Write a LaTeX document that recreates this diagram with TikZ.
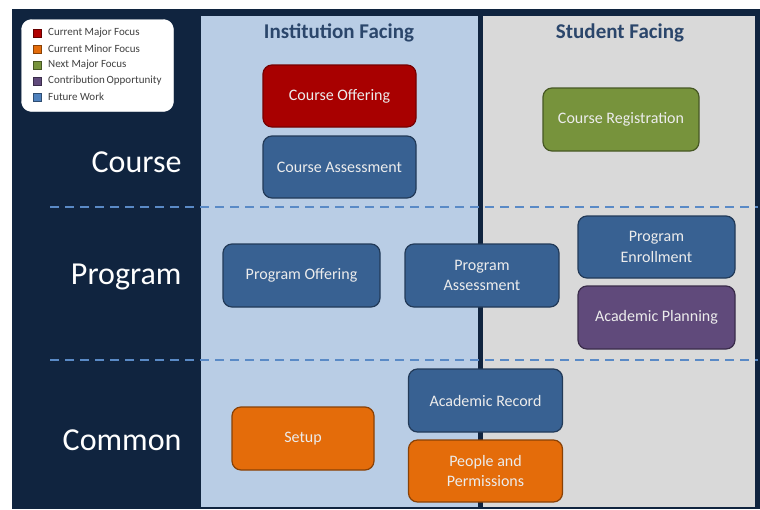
\documentclass[tikz,border=0pt]{standalone}
\usepackage{fontspec}
\setmainfont{Carlito}
\definecolor{navy}{HTML}{10243F}
\definecolor{instbg}{HTML}{B9CDE5}
\definecolor{studbg}{HTML}{D9D9D9}
\definecolor{headc}{HTML}{2B466B}
\definecolor{dashc}{HTML}{5A8AC6}
\definecolor{redf}{HTML}{A80000}
\definecolor{bluef}{HTML}{386192}
\definecolor{legblue}{HTML}{4F81BD}
\definecolor{greenf}{HTML}{77933C}
\definecolor{purplef}{HTML}{604A7B}
\definecolor{orangef}{HTML}{E46C0A}
\definecolor{boxtext}{HTML}{ECECEC}
\begin{document}
\begin{tikzpicture}[x=1pt,y=-1pt,
  box/.style={rectangle,rounded corners=9pt,line width=1.2pt,align=center,
    text=boxtext,font=\fontsize{16}{20.5}\selectfont,inner sep=2pt},
  redbox/.style={box,fill=redf,draw=redf!70!black},
  bluebox/.style={box,fill=bluef,draw=bluef!60!black},
  greenbox/.style={box,fill=greenf,draw=greenf!60!black},
  purplebox/.style={box,fill=purplef,draw=purplef!60!black},
  orangebox/.style={box,fill=orangef,draw=orangef!60!black},
  rowlabel/.style={anchor=east,text=white,font=\fontsize{32}{35}\selectfont},
  header/.style={text=headc,font=\fontsize{21}{23}\selectfont\bfseries},
  sep/.style={draw=dashc,line width=2pt,dash pattern=on 9pt off 6pt},
  legsq/.style={rectangle,minimum size=8pt,inner sep=0pt,line width=0.5pt},
  legtxt/.style={anchor=west,text=black!75,font=\fontsize{11}{12}\selectfont,inner sep=0pt}
]
\useasboundingbox (0,0) rectangle (760,509);
\fill[white] (0,0) rectangle (760,509);
% background panels
\fill[navy] (12,9) rectangle (760,509);
\fill[instbg] (201,16) rectangle (478,507);
\fill[studbg] (483,16) rectangle (755,507);
% dashed separators
\draw[sep] (50,207) -- (758,207);
\draw[sep] (50,360) -- (758,360);
% headers
\node[header] (hinst) at (339,33) {Institution Facing};
\node[header] (hstud) at (620,33) {Student Facing};
% row labels
\node[rowlabel] (lcourse) at (185,162) {Course};
\node[rowlabel] (lprog) at (185,277) {Program};
\node[rowlabel] (lcommon) at (185,440) {Common};
% legend
\node[draw=white,fill=white,rounded corners=10pt,minimum width=152pt,minimum height=92pt] (legend) at (97.5,65.5) {};
\node[legsq,fill=redf!90!red,draw=redf!60!black] (sq1) at (37,33) {};
\node[legtxt] (lt1) at (48,33) {Current Major Focus};
\node[legsq,fill=orangef,draw=orangef!60!black] (sq2) at (37,49) {};
\node[legtxt] (lt2) at (48,49) {Current Minor Focus};
\node[legsq,fill=greenf,draw=greenf!60!black] (sq3) at (37,65) {};
\node[legtxt] (lt3) at (48,65) {Next Major Focus};
\node[legsq,fill=purplef,draw=purplef!60!black] (sq4) at (37,81) {};
\node[legtxt] (lt4) at (48,81) {Contribution\,Opportunity};
\node[legsq,fill=legblue,draw=legblue!60!black] (sq5) at (37,97) {};
\node[legtxt] (lt5) at (48,97) {Future Work};
% boxes
\node[redbox,minimum width=153pt,minimum height=62pt] (coffer) at (339.5,96) {Course Offering};
\node[bluebox,minimum width=153pt,minimum height=62pt] (cassess) at (339.5,167) {Course Assessment};
\node[greenbox,minimum width=156pt,minimum height=63pt] (creg) at (621,119.5) {Course Registration};
\node[bluebox,minimum width=157pt,minimum height=63pt] (poffer) at (301.5,275.5) {Program Offering};
\node[bluebox,minimum width=154pt,minimum height=63pt] (passess) at (482,275.5) {Program\\Assessment};
\node[bluebox,minimum width=157pt,minimum height=62pt] (penroll) at (656.5,247) {Program\\Enrollment};
\node[purplebox,minimum width=157pt,minimum height=63pt] (aplan) at (656.5,317.5) {Academic Planning};
\node[bluebox,minimum width=154pt,minimum height=63pt] (arecord) at (485.5,400.5) {Academic Record};
\node[orangebox,minimum width=142pt,minimum height=63pt] (setup) at (303,438.5) {Setup};
\node[orangebox,minimum width=154pt,minimum height=62pt] (people) at (485.5,471) {People and\\Permissions};
\end{tikzpicture}
\end{document}
